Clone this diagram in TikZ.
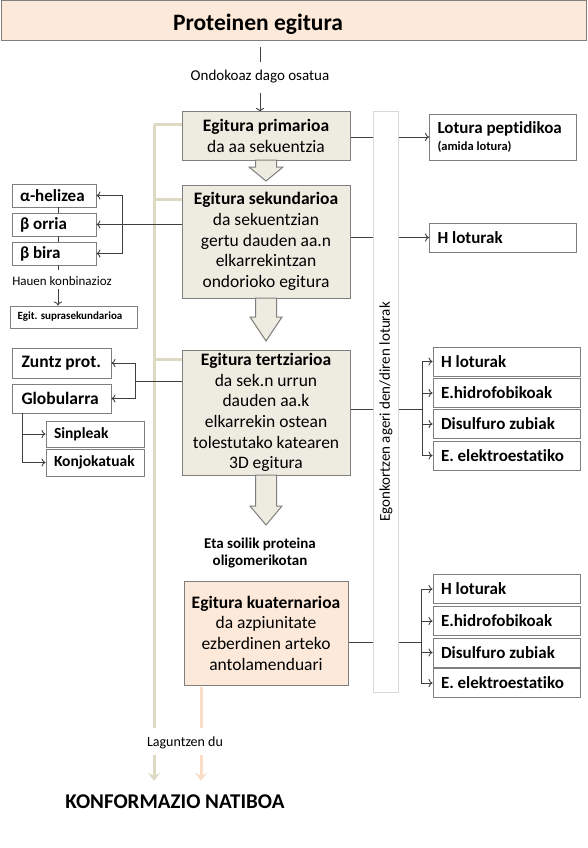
\documentclass[tikz,border=0pt]{standalone}
\usepackage{fontspec}
\setmainfont{Carlito}[Ligatures={NoCommon}]
\usetikzlibrary{arrows.meta,calc}
\definecolor{tanfill}{HTML}{EEECE1}
\definecolor{peachfill}{HTML}{FDE9D9}
\definecolor{tanline}{HTML}{DDD9C3}
\definecolor{peachline}{HTML}{FBDCC6}
\definecolor{boxgray}{HTML}{7F7F7F}
\definecolor{conngray}{HTML}{3F3F3F}
\definecolor{vboxgray}{HTML}{D9D9D9}
\newcommand{\fz}[2]{\fontsize{#1}{#2}\selectfont}
\begin{document}
\begin{tikzpicture}[x=1pt,y=-1pt,
  >={To[length=4pt,width=8pt]},
  titlebox/.style={draw=boxgray, line width=1pt, fill=peachfill, inner sep=0pt, minimum width=585pt, minimum height=40pt},
  mainbox/.style={draw=boxgray, line width=1pt, fill=tanfill, align=center, inner sep=0pt, font=\fz{17.5}{20.7}},
  quatbox/.style={mainbox, fill=peachfill},
  blockarr/.style={draw=boxgray, line width=1pt, fill=tanfill, line join=miter},
  rbox/.style={draw=boxgray, line width=0.9pt, fill=white, align=flush left, text width=131pt, inner xsep=8pt, inner ysep=0pt, minimum height=29pt, font=\bfseries\fz{17}{20}, execute at begin node={\spaceskip=0pt\xspaceskip=0pt}},
  lbox/.style={draw=boxgray, line width=0.9pt, fill=white, align=flush left, inner xsep=8pt, inner ysep=0pt, font=\bfseries\fz{17}{20}, execute at begin node={\spaceskip=0pt\xspaceskip=0pt}},
  conn/.style={draw=conngray, line width=0.9pt},
  tanthick/.style={draw=tanline, line width=3pt},
  peachthick/.style={draw=peachline, line width=3pt},
  plain/.style={inner sep=0pt, align=center}
]
\useasboundingbox (0,0) rectangle (587,848);
\fill[white] (0,0) rectangle (587,848);

% title
\node[titlebox] (title) at (293.5,21) {};
\node[plain, font=\bfseries\fz{23.5}{26}] (titletext) at (258,24.5) {Proteinen egitura};
\node[plain, font=\fz{15}{17}] (ondo) at (260,77) {Ondokoaz dago osatua};
\coordinate (l1) at (260,47);
\draw[conn] (l1) -- ([yshift=8pt]ondo.north);
\draw[conn,->] ([yshift=-9pt]ondo.south) -- (ondo.south |- 0,112);

% main column
\node[mainbox, minimum width=168pt, minimum height=48pt] (prim) at (266,136) {\textbf{Egitura primarioa}\\da aa sekuentzia};
\node[mainbox, minimum width=168pt, minimum height=113pt] (sec) at (266,241.5) {\textbf{Egitura sekundarioa}\\da sekuentzian\\gertu dauden aa.n\\elkarrekintzan\\ondorioko egitura};
\node[mainbox, minimum width=168pt, minimum height=125pt] (ter) at (266,412.5) {\textbf{Egitura tertziarioa}\\da sek.n urrun\\dauden aa.k\\elkarrekin ostean\\tolestutako katearen\\3D egitura};
\node[plain, font=\bfseries\fz{15}{17}] (eta) at (260,553) {Eta soilik proteina\\oligomerikotan};
\node[quatbox, minimum width=164pt, minimum height=104pt] (quat) at (266,633) {\textbf{Egitura kuaternarioa}\\da azpiunitate\\ezberdinen arteko\\antolamenduari};

% block arrows
\path[blockarr] (255.5,160) -- (276.5,160) -- (276.5,167) -- (283,167) -- (266,181) -- (249,167) -- (255.5,167) -- cycle;
\path[blockarr] (255.5,298) -- (276.5,298) -- (276.5,317) -- (282,317) -- (266,341) -- (250,317) -- (255.5,317) -- cycle;
\path[blockarr] (255.5,475) -- (276.5,475) -- (276.5,506) -- (282,506) -- (266,525) -- (250,506) -- (255.5,506) -- cycle;

% tan side line
\coordinate (bp) at (154,125);
\coordinate (bs) at (154,199);
\coordinate (bt) at (154,359);
\coordinate (bbot) at (154,728);
\draw[tanthick] (bp) -- (bbot);
\draw[tanthick] (bp) -- (bp -| prim.west);
\draw[tanthick] (bs) -- (bs -| sec.west);
\draw[tanthick] (bt) -- (bt -| ter.west);
\coordinate (pq) at (201,687);
\coordinate (pbot) at (201,728);
\draw[peachthick] (pq) -- (pbot);
\node[plain, font=\fz{14}{16}] (lag) at (185,743) {Laguntzen du};
\node[plain, font=\bfseries\fz{21}{24}] (konf) at (175,802) {KONFORMAZIO NATIBOA};
\coordinate (a1) at (154,755);
\coordinate (a2) at (201,755);
\draw[tanthick, -{Stealth[length=8pt,width=12pt,inset=3pt]}] (a1) -- ([yshift=14pt]konf.north -| a1);
\draw[peachthick, -{Stealth[length=8pt,width=12pt,inset=3pt]}] (a2) -- ([yshift=14pt]konf.north -| a2);

% vertical box
\node[draw=vboxgray, line width=1pt, fill=white, minimum width=25pt, minimum height=580pt, inner sep=0pt] (vbox) at (386,402) {};
\node[plain, rotate=90, font=\fz{15}{16}] (vtext) at (386,412) {Egonkortzen ageri den/diren loturak};

% right boxes
\node[rbox, minimum height=46pt] (lot) at (503,137) {Lotura peptidikoa\\[-3pt]{\fz{12.5}{14}(amida lotura)}};
\node[rbox] (hlot) at (503,237.5) {H loturak};
\draw[conn] (prim.east |- lot) -- (vbox.west |- lot);
\draw[conn,->] (vbox.east |- lot) -- (lot.west);
\draw[conn] (sec.east |- hlot) -- (vbox.west |- hlot);
\draw[conn,->] (vbox.east |- hlot) -- (hlot.west);

\node[rbox] (t1) at (506.5,361.5) {H loturak};
\node[rbox] (t2) at (506.5,393) {E.hidrofobikoak};
\node[rbox] (t3) at (506.5,424) {Disulfuro zubiak};
\node[rbox] (t4) at (506.5,455.5) {E. elektroestatiko};
\coordinate (tj) at (422,409);
\draw[conn] (ter.east |- tj) -- (vbox.west |- tj);
\draw[conn] (vbox.east |- tj) -- (tj);
\draw[conn,->] (tj) |- (t1.west);
\draw[conn,->] (tj) |- (t2.west);
\draw[conn,->] (tj) |- (t3.west);
\draw[conn,->] (tj) |- (t4.west);

\node[rbox] (q1) at (506.5,589) {H loturak};
\node[rbox] (q2) at (506.5,621) {E.hidrofobikoak};
\node[rbox] (q3) at (506.5,652.5) {Disulfuro zubiak};
\node[rbox] (q4) at (506.5,683) {E. elektroestatiko};
\coordinate (qj) at (421,642);
\draw[conn] (quat.east |- qj) -- (vbox.west |- qj);
\draw[conn] (vbox.east |- qj) -- (qj);
\draw[conn,->] (qj) |- (q1.west);
\draw[conn,->] (qj) |- (q2.west);
\draw[conn,->] (qj) |- (q3.west);
\draw[conn,->] (qj) |- (q4.west);

% left: secondary
\node[lbox, text width=68pt, minimum height=23pt] (alpha) at (54,195.5) {α-helizea};
\node[lbox, text width=68pt, minimum height=23pt] (orria) at (54,224.5) {β orria};
\node[lbox, text width=68pt, minimum height=23pt] (bira) at (54,253.5) {β bira};
\draw[conn] ([xshift=4pt]alpha.south) -- ([xshift=4pt]orria.north);
\draw[conn] ([xshift=4pt]orria.south) -- ([xshift=4pt]bira.north);
\draw[conn] ([xshift=4pt]bira.south) -- ++(0,5);
\coordinate (sj) at (122,224.5);
\draw[conn,->] (sec.west |- sj) -- (orria.east);
\draw[conn,->] (sj) |- (alpha.east);
\draw[conn,->] (sj) |- (bira.east);
\node[plain, font=\fz{13}{15}] (hauen) at (62,281) {Hauen konbinazioz};
\node[lbox, text width=113pt, inner xsep=7pt, minimum height=22pt, font=\bfseries\fz{11}{13}] (supra) at (74,317) {Egit. suprasekundarioa};
\draw[conn,->] ([xshift=-4pt,yshift=-3pt]hauen.south) -- ([xshift=-16pt]supra.north);

% left: tertiary
\node[lbox, text width=88pt, inner xsep=5.5pt, minimum height=30pt, font=\bfseries\fz{17.5}{20}] (zuntz) at (61.5,363) {\hspace*{4pt}Zuntz prot.};
\node[lbox, text width=88pt, inner xsep=5.5pt, minimum height=29pt, font=\bfseries\fz{17.5}{20}] (glob) at (61.5,398.5) {\hspace*{4pt}Globularra};
\coordinate (lj) at (135,381);
\draw[conn] (ter.west |- lj) -- (lj);
\draw[conn,->] (lj) |- (zuntz.east);
\draw[conn,->] (lj) |- (glob.east);
\node[lbox, text width=82pt, minimum height=26pt, font=\bfseries\fz{15.5}{18}] (sinp) at (95,434) {Sinpleak};
\node[lbox, text width=82pt, minimum height=27pt, font=\bfseries\fz{15.5}{18}] (konj) at (95,462.5) {Konjokatuak};
\coordinate (gx) at (22,0);
\draw[conn,->] (glob.south -| gx) |- (sinp.west);
\draw[conn,->] (glob.south -| gx) |- (konj.west);
\end{tikzpicture}
\end{document}
